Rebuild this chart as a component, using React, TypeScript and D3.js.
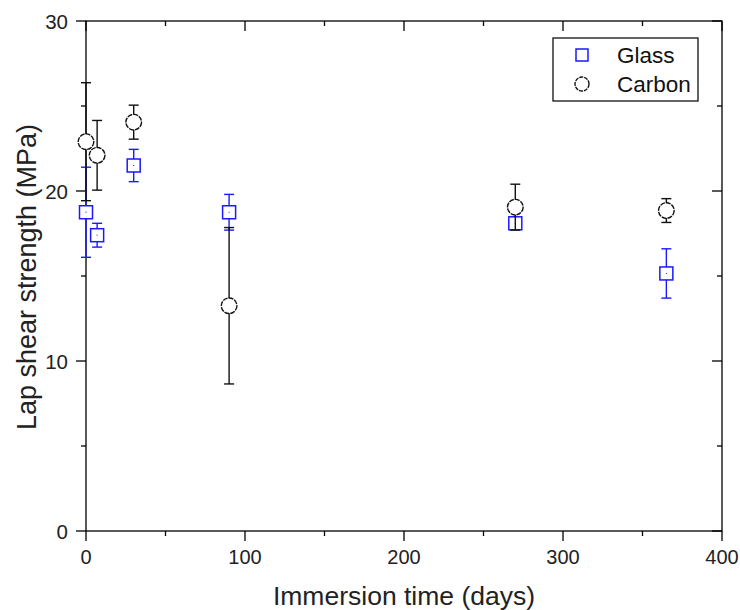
import React, { useRef, useEffect } from 'react';
import * as d3 from 'd3';

// immersion times (days)
const glassDays = [0, 7, 30, 90, 270, 365];
const glassMean = [18.75, 17.4, 21.5, 18.75, 18.1, 15.15];
const glassErr = [2.65, 0.7, 0.95, 1.05, 0.3, 1.45];

const carbonDays = [0, 7, 30, 90, 270, 365];
const carbonMean = [22.9, 22.1, 24.05, 13.25, 19.05, 18.85];
const carbonErr = [3.47, 2.05, 1.0, 4.6, 1.35, 0.7];

const xMajor = [0, 100, 200, 300, 400];
const xMinor = [50, 150, 250, 350];
const yMajor = [0, 10, 20, 30];
const yMinor = [5, 15, 25];

const width = 740;
const height = 610;
const margin = { top: 21, right: 18, bottom: 79, left: 86 };
const font = 'Arial, "Liberation Sans", sans-serif';

export default function App() {
    const node = useRef<SVGSVGElement>(null);

    useEffect(() => {
        const svg = d3.select(node.current);
        svg.selectAll('*').remove();

        const x = d3.scaleLinear().domain([0, 400]).range([margin.left, width - margin.right]);
        const y = d3.scaleLinear().domain([0, 30]).range([height - margin.bottom, margin.top]);
        const x0 = x(0), x1 = x(400), y0 = y(0), y1 = y(30);

        const axes = svg.append('g').attr('stroke', '#000').attr('stroke-width', 1.3);

        // frame
        axes.append('rect')
            .attr('x', x0).attr('y', y1)
            .attr('width', x1 - x0).attr('height', y0 - y1)
            .attr('fill', 'none');

        // bottom ticks (out) and top ticks (in)
        xMajor.forEach(v => {
            axes.append('line').attr('x1', x(v)).attr('x2', x(v)).attr('y1', y0).attr('y2', y0 + 10);
            axes.append('line').attr('x1', x(v)).attr('x2', x(v)).attr('y1', y1).attr('y2', y1 + 10);
        });
        xMinor.forEach(v => {
            axes.append('line').attr('x1', x(v)).attr('x2', x(v)).attr('y1', y0).attr('y2', y0 + 5);
            axes.append('line').attr('x1', x(v)).attr('x2', x(v)).attr('y1', y1).attr('y2', y1 + 5);
        });
        // left ticks (out) and right ticks (in)
        yMajor.forEach(v => {
            axes.append('line').attr('x1', x0 - 10).attr('x2', x0).attr('y1', y(v)).attr('y2', y(v));
            axes.append('line').attr('x1', x1 - 10).attr('x2', x1).attr('y1', y(v)).attr('y2', y(v));
        });
        yMinor.forEach(v => {
            axes.append('line').attr('x1', x0 - 5).attr('x2', x0).attr('y1', y(v)).attr('y2', y(v));
            axes.append('line').attr('x1', x1 - 5).attr('x2', x1).attr('y1', y(v)).attr('y2', y(v));
        });

        // tick labels
        svg.append('g').selectAll('text').data(xMajor).join('text')
            .attr('x', d => x(d))
            .attr('y', y0 + 33)
            .attr('text-anchor', 'middle')
            .style('font-family', font)
            .style('font-size', '20px')
            .attr('fill', '#222')
            .text(d => d);

        svg.append('g').selectAll('text').data(yMajor).join('text')
            .attr('x', x0 - 18)
            .attr('y', d => y(d) + 7.5)
            .attr('text-anchor', 'end')
            .style('font-family', font)
            .style('font-size', '20.5px')
            .attr('fill', '#222')
            .text(d => d);

        // axis titles
        svg.append('text')
            .attr('x', (x0 + x1) / 2)
            .attr('y', 605)
            .attr('text-anchor', 'middle')
            .style('font-family', font)
            .style('font-size', '26.5px')
            .attr('fill', '#222')
            .text('Immersion time (days)');

        svg.append('text')
            .attr('transform', `translate(36,277) rotate(-90)`)
            .attr('text-anchor', 'middle')
            .style('font-family', font)
            .style('font-size', '27px')
            .attr('fill', '#222')
            .text('Lap shear strength (MPa)');

        const cap = 5;
        const drawErrors = (days: number[], mean: number[], err: number[], color: string) => {
            const g = svg.append('g').attr('stroke', color).attr('stroke-width', 1.4);
            days.forEach((d, i) => {
                const cx = x(d), top = y(mean[i] + err[i]), bot = y(mean[i] - err[i]);
                g.append('line').attr('x1', cx).attr('x2', cx).attr('y1', top).attr('y2', bot);
                g.append('line').attr('x1', cx - cap).attr('x2', cx + cap).attr('y1', top).attr('y2', top);
                g.append('line').attr('x1', cx - cap).attr('x2', cx + cap).attr('y1', bot).attr('y2', bot);
            });
        };

        const sq = 13;
        // glass
        drawErrors(glassDays, glassMean, glassErr, '#1a1aff');
        const gg = svg.append('g');
        glassDays.forEach((d, i) => {
            gg.append('rect')
                .attr('x', x(d) - sq / 2).attr('y', y(glassMean[i]) - sq / 2)
                .attr('width', sq).attr('height', sq)
                .attr('fill', '#fff').attr('stroke', '#1a1aff').attr('stroke-width', 1.5);
            gg.append('rect')
                .attr('x', x(d) - 0.5).attr('y', y(glassMean[i]) - 0.5)
                .attr('width', 1).attr('height', 1).attr('fill', '#1a1aff');
        });

        // carbon
        drawErrors(carbonDays, carbonMean, carbonErr, '#111');
        svg.append('g').selectAll('circle').data(carbonDays).join('circle')
            .attr('cx', d => x(d))
            .attr('cy', (d, i) => y(carbonMean[i]))
            .attr('r', 7.8)
            .attr('fill', '#fff').attr('stroke', '#111').attr('stroke-width', 1.4)
            .attr('stroke-dasharray', '5 1');

        // legend
        const lg = svg.append('g');
        lg.append('rect')
            .attr('x', 553).attr('y', 38).attr('width', 145).attr('height', 63)
            .attr('fill', '#fff').attr('stroke', '#111').attr('stroke-width', 1.3);
        lg.append('rect')
            .attr('x', 582 - 6).attr('y', 55 - 6).attr('width', 12).attr('height', 12)
            .attr('fill', '#fff').attr('stroke', '#1a1aff').attr('stroke-width', 1.5);
        lg.append('circle')
            .attr('cx', 582).attr('cy', 84).attr('r', 7)
            .attr('fill', '#fff').attr('stroke', '#111').attr('stroke-width', 1.4)
            .attr('stroke-dasharray', '4 1');
        lg.selectAll('text').data(['Glass', 'Carbon']).join('text')
            .attr('x', 617)
            .attr('y', (d, i) => 62.5 + i * 29)
            .style('font-family', font)
            .style('font-size', '22.5px')
            .attr('fill', '#111')
            .text(d => d);
    }, []);

    return (
        <svg ref={node} width={width} height={height}
            style={{ position: 'absolute', left: 0, top: 0, background: '#fff' }} />
    );
}
